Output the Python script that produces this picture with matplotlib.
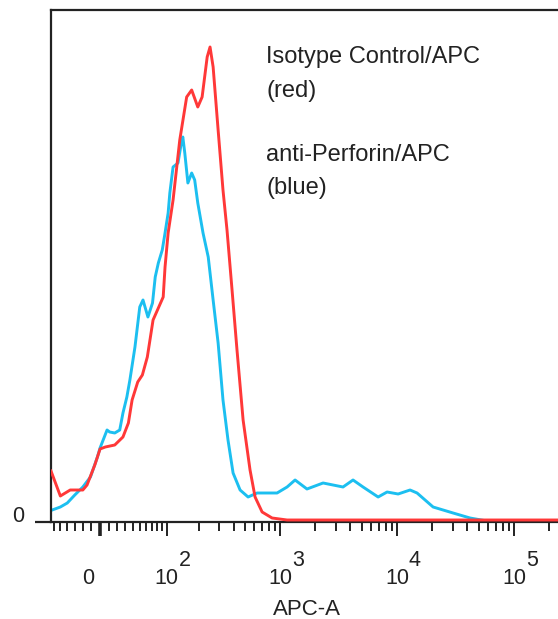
import numpy as np
import matplotlib
matplotlib.use("Agg")
import matplotlib.pyplot as plt
from matplotlib.transforms import ScaledTranslation, blended_transform_factory

plt.rcParams['font.family'] = ['Liberation Sans', 'DejaVu Sans']

# ---- data (APC-A intensity, event counts) ----
iso_x = [-65, -50, -36, -20, -15, -6, 0, 6, 17, 27, 34, 39, 47, 54, 62, 72, 92, 96, 103, 115,
         133, 154, 171, 194, 212, 235, 249, 265, 293, 323, 350, 387, 427, 482, 553, 611, 702,
         855, 1149, 238000]
iso_y = [51, 26, 32, 32, 37, 57, 73, 75, 77, 85, 99, 122, 140, 147, 165, 202, 225, 255, 289, 322,
         382, 425, 432, 415, 425, 465, 475, 455, 392, 332, 292, 232, 172, 102, 52, 25, 10,
         4, 2, 2]

perf_x = [-63, -50, -40, -30, -20, -11, -3, 0, 8, 11, 17, 23, 27, 32, 36, 43, 50, 55, 63, 71,
          76, 82, 90, 96, 103, 107, 115, 128, 139, 142, 148, 158, 171, 182, 194, 216, 240, 265,
          293, 323, 357, 395, 454, 532, 636, 943, 1149, 1345, 1700, 2335, 3457, 4210, 5128,
          6900, 8230, 10230, 12940, 14850, 20360, 30170, 42120, 58900, 238000]
perf_y = [12, 15, 19, 27, 35, 45, 65, 74, 92, 90, 89, 92, 109, 125, 142, 175, 215, 222, 205, 219,
          245, 259, 272, 289, 309, 329, 355, 359, 382, 385, 369, 339, 349, 342, 319, 289, 265, 222,
          179, 122, 82, 49, 32, 25, 29, 29, 35, 42, 33, 39, 35, 42, 35,
          25, 30, 28, 32, 29, 15, 9, 4, 1, 1]

major_ticks = [0, 1e2, 1e3, 1e4, 1e5]
major_labels = ['0', '10', '10', '10', '10']
exponents = ['2', '3', '4', '5']
minor_ticks = ([-60, -50, -40, -30, -20, -10] + list(range(10, 100, 10)) +
               [m * 10 ** e for e in (2, 3, 4) for m in range(2, 10)] +
               [2e5])
legend_lines = ['Isotype Control/APC', '(red)', 'anti-Perforin/APC', '(blue)']

# ---- figure ----
W, H, DPI = 558, 619, 100
fig = plt.figure(figsize=(W / DPI, H / DPI), dpi=DPI)
ax = fig.add_axes([51 / W, 1 - 522 / H, (W - 51) / W, 512 / H])

C = 57.9
ax.set_xscale('function', functions=(lambda v: np.arcsinh(np.asarray(v) / C),
                                     lambda v: C * np.sinh(np.asarray(v))))

ax.plot(iso_x, iso_y, color='#ff3838', lw=2.1, zorder=3, solid_joinstyle='round')
ax.plot(perf_x, perf_y, color='#1cbff0', lw=2.1, zorder=2, solid_joinstyle='round')

ax.set_xlim(-65, 238000)
ax.set_ylim(0, 512)

for s in ['top', 'left', 'bottom']:
    ax.spines[s].set_linewidth(1.6)
    ax.spines[s].set_color('#222222')
ax.spines['right'].set_visible(False)

ax.set_xticks(major_ticks, major_labels)
ax.set_xticks(minor_ticks, minor=True)
ax.tick_params(axis='x', which='major', direction='out', length=10, width=1.4,
               pad=23, labelsize=15.5, colors='#222222')
ax.tick_params(axis='x', which='minor', direction='out', length=6.5, width=1.4, colors='#222222')
ax.set_yticks([0], ['0'])
ax.tick_params(axis='y', which='major', direction='out', length=11.5, width=1.6,
               pad=8, labelsize=15.5, colors='#222222')
ax.yaxis.set_minor_locator(matplotlib.ticker.NullLocator())

# thick zero tick
ax.xaxis.get_major_ticks()[0].tick1line.set_markeredgewidth(2.6)

# offsets to mimic cytometer label placement
lab0 = ax.xaxis.get_ticklabels()[0]
lab0.set_transform(lab0.get_transform() + ScaledTranslation(-12 / DPI, 0, fig.dpi_scale_trans))
laby = ax.yaxis.get_ticklabels()[0]
laby.set_transform(laby.get_transform() + ScaledTranslation(0, 8 / DPI, fig.dpi_scale_trans))

# exponents
bt = blended_transform_factory(ax.transData, ax.transAxes)
for t, e in zip(major_ticks[1:], exponents):
    ax.text(t, 0, e, transform=bt + ScaledTranslation(12 / DPI, -39 / DPI, fig.dpi_scale_trans),
            ha='left', va='center', fontsize=15.5, color='#222222', clip_on=False)

ax.set_xlabel('APC-A', fontsize=16, color='#222222')
ax.xaxis.set_label_coords(0.505, -0.151)

baselines = [63, 97, 161, 194]
for txt, b in zip(legend_lines, baselines):
    fig.text(266 / W, 1 - b / H, txt, ha='left', va='baseline', fontsize=17, color='#222222')

fig.savefig('out.png', dpi=DPI)
